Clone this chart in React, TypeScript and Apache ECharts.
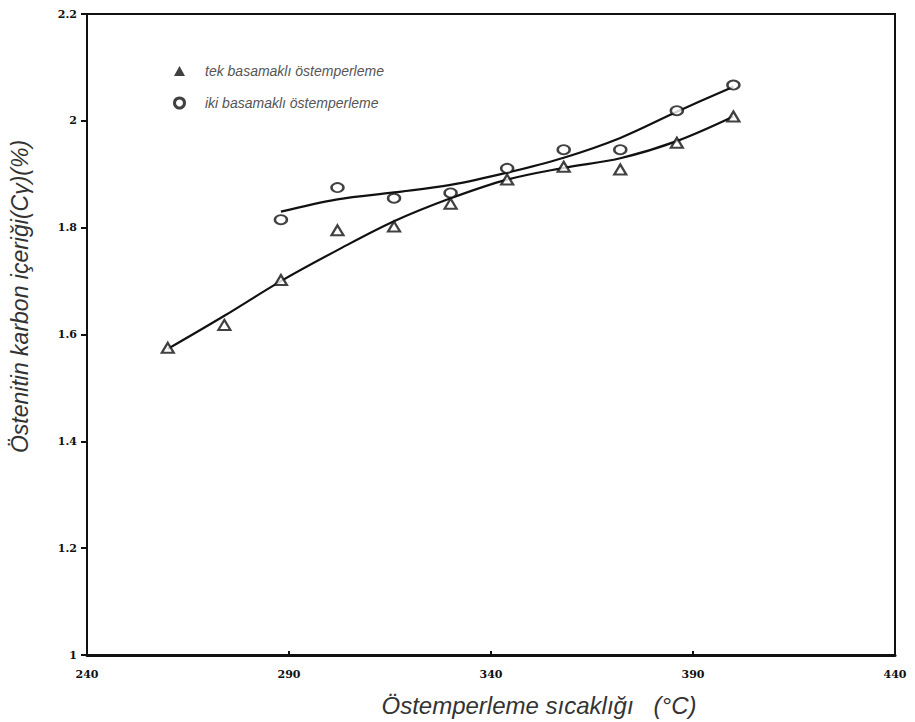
import React, { useEffect, useRef } from "react";
import * as echarts from "echarts";

// Measured temperatures (°C) and austenite carbon content (%)
const tekTemps = [260, 274, 288, 302, 316, 330, 344, 358, 372, 386, 400];
const tekValues = [1.575, 1.618, 1.702, 1.795, 1.802, 1.845, 1.89, 1.914, 1.909, 1.959, 2.008];

const ikiTemps = [288, 302, 316, 330, 344, 358, 372, 386, 400];
const ikiValues = [1.815, 1.875, 1.855, 1.865, 1.911, 1.946, 1.946, 2.019, 2.067];

// Trend curves drawn through the measurements
const tekFitTemps = [260, 274, 288, 302, 316, 330, 344, 358, 372, 386, 400];
const tekFitValues = [1.573, 1.635, 1.7, 1.758, 1.812, 1.855, 1.89, 1.912, 1.93, 1.962, 2.008];

const ikiFitTemps = [288, 302, 316, 330, 344, 358, 372, 386, 400];
const ikiFitValues = [1.83, 1.853, 1.866, 1.88, 1.903, 1.931, 1.968, 2.017, 2.064];

const seriesNames = ["tek basamaklı östemperleme", "iki basamaklı östemperleme"];
const xTitle = "Östemperleme sıcaklığı   (°C)";
const yTitle = "Östenitin karbon içeriği(Cγ)(%)";

const zip = (xs: number[], ys: number[]) => xs.map((x, i) => [x, ys[i]]);

export default function App() {
  const ref = useRef<HTMLDivElement>(null);

  useEffect(() => {
    if (!ref.current) return;
    const chart = echarts.init(ref.current, null, { renderer: "svg" });
    const tickFont = {
      color: "#111",
      fontFamily: "DejaVu Serif",
      fontWeight: "bold" as const,
      fontSize: 11,
    };
    chart.setOption({
      animation: false,
      backgroundColor: "#fff",
      grid: {
        left: 82,
        right: 20,
        top: 14,
        bottom: 65,
        show: true,
        borderColor: "#111",
        borderWidth: 2,
      },
      legend: {
        left: 168,
        top: 59,
        orient: "vertical",
        itemGap: 18,
        itemWidth: 11,
        itemHeight: 10,
        textStyle: {
          fontFamily: "Liberation Sans",
          fontStyle: "italic",
          fontSize: 14,
          color: "#555",
          padding: [0, 0, 0, 15],
        },
        data: [
          { name: seriesNames[0], icon: "triangle", itemStyle: { color: "#111", borderWidth: 0 } },
          {
            name: seriesNames[1],
            icon: "circle",
            itemStyle: { color: "#fff", borderColor: "#111", borderWidth: 3 },
          },
        ],
      },
      xAxis: {
        type: "value",
        min: 240,
        max: 440,
        interval: 50,
        name: xTitle,
        nameLocation: "middle",
        nameGap: 38,
        nameTextStyle: {
          fontFamily: "Liberation Sans",
          fontStyle: "italic",
          fontSize: 24,
          color: "#333",
          padding: [0, 0, 0, 96],
        },
        axisLine: { show: true, lineStyle: { color: "#111", width: 3 } },
        axisTick: { show: true, inside: true, length: 4, lineStyle: { color: "#111", width: 2 } },
        axisLabel: { ...tickFont, margin: 14 },
        splitLine: { show: false },
      },
      yAxis: {
        type: "value",
        min: 1,
        max: 2.2,
        interval: 0.2,
        name: yTitle,
        nameLocation: "middle",
        nameGap: 56,
        nameTextStyle: {
          fontFamily: "Liberation Sans",
          fontStyle: "italic",
          fontSize: 23,
          color: "#333",
          padding: [0, 0, 0, 76],
        },
        axisLine: { show: true, lineStyle: { color: "#111", width: 2 } },
        axisTick: { show: true, length: 6, lineStyle: { color: "#111", width: 2 } },
        axisLabel: { ...tickFont, margin: 10 },
        splitLine: { show: false },
      },
      series: [
        {
          name: "tek-fit",
          type: "line",
          data: zip(tekFitTemps, tekFitValues),
          smooth: 0.35,
          showSymbol: false,
          lineStyle: { color: "#111", width: 2.2 },
          z: 2,
        },
        {
          name: "iki-fit",
          type: "line",
          data: zip(ikiFitTemps, ikiFitValues),
          smooth: 0.35,
          showSymbol: false,
          lineStyle: { color: "#111", width: 2.2 },
          z: 2,
        },
        {
          name: seriesNames[0],
          type: "scatter",
          data: zip(tekTemps, tekValues),
          symbol: "triangle",
          symbolSize: [12, 10],
          itemStyle: { color: "#fff", borderColor: "#111", borderWidth: 2.2 },
          z: 5,
        },
        {
          name: seriesNames[1],
          type: "scatter",
          data: zip(ikiTemps, ikiValues),
          symbol: "circle",
          symbolSize: [12, 9],
          itemStyle: { color: "#fff", borderColor: "#111", borderWidth: 2.2 },
          z: 5,
        },
      ],
    });
    return () => chart.dispose();
  }, []);

  return <div ref={ref} style={{ width: 915, height: 722, position: "absolute", left: 0, top: 0 }} />;
}
